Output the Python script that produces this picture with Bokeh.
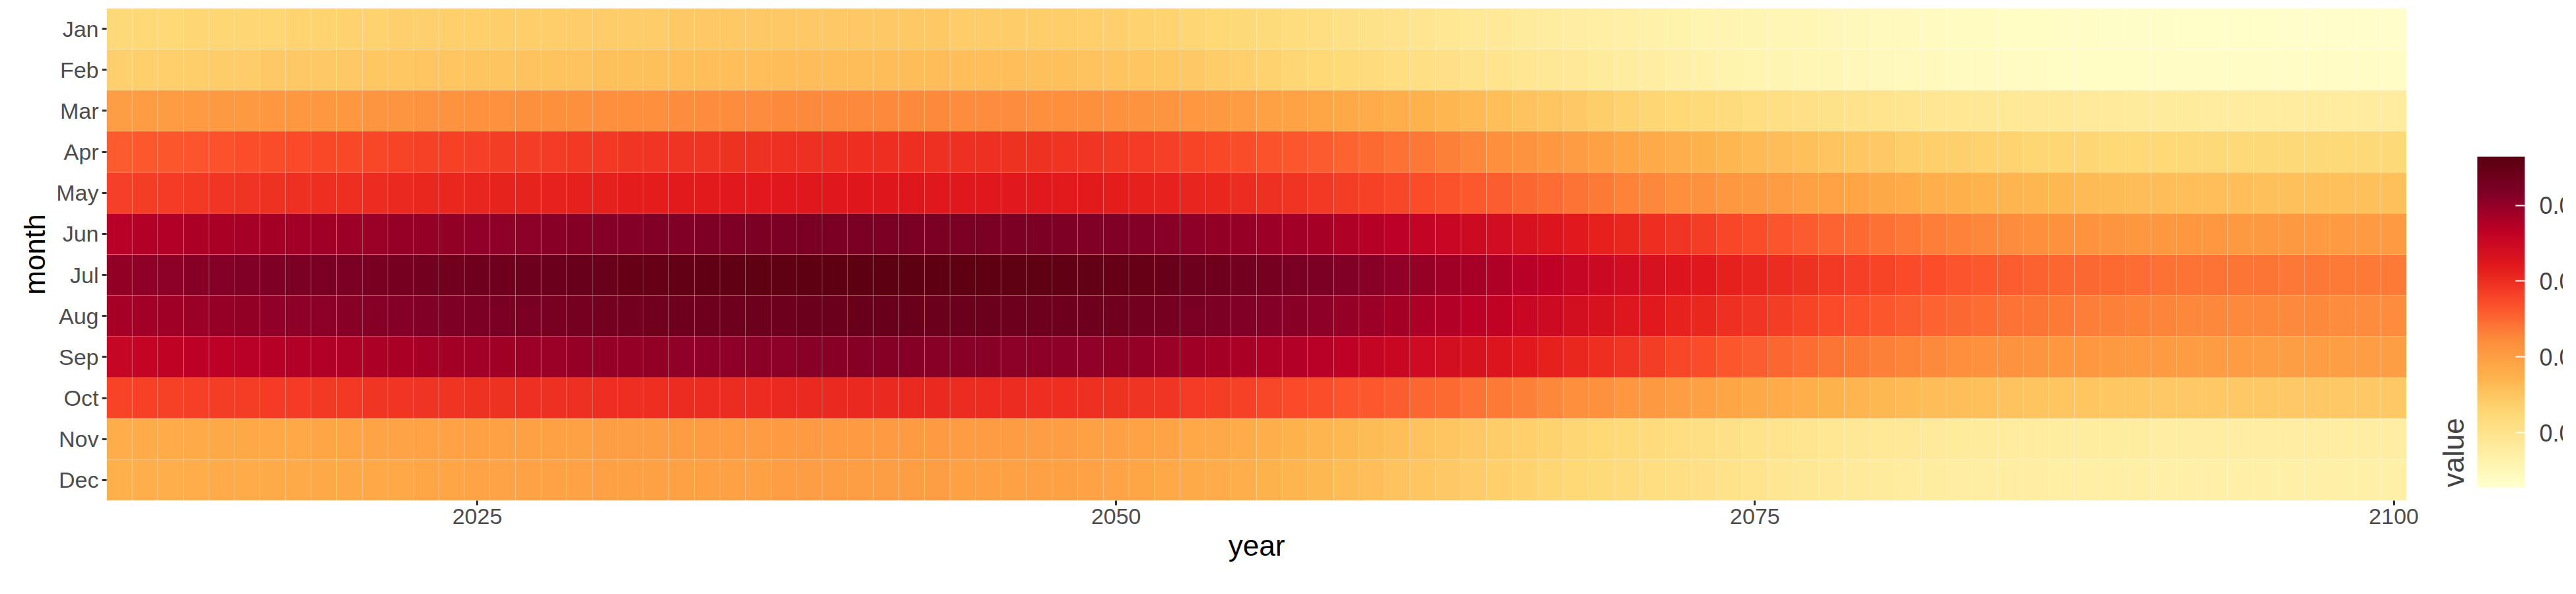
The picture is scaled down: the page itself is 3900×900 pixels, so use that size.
from bokeh.plotting import figure
from bokeh.models import LinearColorMapper, ColorBar, FixedTicker, ColumnDataSource, FactorRange, Range1d, PrintfTickFormatter
from bokeh.embed import file_html
from bokeh.resources import INLINE
from bokeh.transform import transform

months = ["Jan", "Feb", "Mar", "Apr", "May", "Jun", "Jul", "Aug", "Sep", "Oct", "Nov", "Dec"]
years = list(range(2011, 2101))

# values in units of 1e-5, one row per month, 2011..2100
jan = [212, 213, 213, 214, 214, 215, 215, 216, 216, 217, 217, 218, 218, 219, 219, 220, 220, 220, 221, 221,
       221, 221, 222, 222, 222, 222, 222, 222, 222, 222, 222, 222, 222, 221, 221, 221, 220, 220, 219, 218,
       217, 216, 215, 213, 212, 210, 208, 206, 204, 202, 200, 198, 196, 194, 193, 191, 189, 188, 186, 185,
       183, 182, 180, 179, 178, 177, 176, 175, 174, 173, 172, 171, 170, 170, 169, 169, 168, 168, 167, 167,
       167, 166, 166, 166, 166, 165, 165, 165, 165, 165]
feb = [218, 219, 219, 220, 221, 221, 222, 222, 223, 223, 224, 224, 225, 225, 226, 226, 227, 227, 227, 228,
       228, 228, 229, 229, 229, 229, 230, 230, 230, 230, 230, 230, 230, 229, 229, 229, 228, 228, 227, 226,
       225, 224, 222, 221, 219, 217, 215, 213, 211, 209, 207, 205, 203, 201, 199, 197, 195, 193, 191, 189,
       187, 185, 183, 181, 180, 178, 177, 176, 175, 174, 173, 172, 171, 171, 170, 170, 169, 169, 169, 169,
       168, 168, 168, 168, 168, 168, 168, 168, 168, 168]
mar = [250, 251, 251, 252, 253, 253, 254, 254, 255, 255, 256, 256, 257, 257, 258, 258, 259, 259, 259, 260,
       260, 260, 261, 261, 261, 261, 262, 262, 262, 262, 262, 262, 262, 261, 261, 261, 260, 260, 259, 258,
       257, 256, 254, 253, 251, 249, 247, 245, 243, 241, 239, 237, 234, 232, 229, 227, 225, 222, 220, 217,
       215, 213, 211, 209, 207, 205, 203, 202, 200, 199, 198, 197, 196, 195, 194, 193, 193, 192, 192, 191,
       191, 191, 190, 190, 190, 190, 190, 190, 190, 190]
apr = [280, 281, 282, 283, 284, 285, 286, 287, 288, 288, 289, 290, 291, 291, 292, 293, 293, 294, 295, 295,
       296, 296, 297, 297, 298, 298, 299, 299, 299, 300, 300, 300, 299, 299, 299, 298, 298, 297, 296, 295,
       294, 292, 290, 288, 286, 284, 282, 280, 277, 274, 272, 269, 266, 263, 260, 257, 254, 251, 248, 245,
       242, 239, 237, 234, 232, 230, 228, 226, 224, 222, 220, 219, 218, 217, 216, 215, 214, 214, 213, 213,
       213, 212, 212, 212, 212, 212, 212, 212, 212, 212]
may = [292, 293, 294, 295, 296, 297, 298, 299, 300, 300, 301, 302, 303, 303, 304, 305, 305, 306, 307, 307,
       308, 308, 309, 309, 310, 310, 311, 311, 311, 312, 312, 312, 311, 311, 311, 310, 310, 309, 309, 308,
       307, 306, 304, 303, 301, 299, 297, 295, 293, 291, 289, 286, 284, 281, 279, 276, 273, 271, 268, 265,
       263, 260, 258, 255, 253, 251, 249, 247, 245, 243, 241, 239, 238, 236, 235, 234, 233, 232, 231, 230,
       230, 229, 229, 229, 228, 228, 228, 228, 228, 228]
jun = [335, 337, 338, 340, 341, 342, 343, 344, 345, 346, 347, 348, 349, 350, 351, 352, 353, 354, 355, 356,
       356, 357, 358, 359, 359, 360, 360, 361, 361, 362, 362, 362, 361, 361, 361, 360, 360, 359, 358, 357,
       356, 354, 352, 350, 348, 346, 344, 342, 339, 336, 333, 330, 327, 324, 321, 317, 314, 310, 307, 303,
       300, 296, 293, 289, 286, 283, 280, 277, 274, 272, 269, 267, 265, 263, 261, 260, 258, 257, 256, 255,
       255, 254, 254, 253, 253, 253, 252, 252, 252, 252]
jul = [350, 352, 353, 355, 356, 358, 359, 360, 361, 362, 363, 364, 366, 367, 368, 369, 370, 371, 372, 373,
       374, 375, 376, 377, 377, 378, 378, 379, 379, 380, 380, 380, 379, 379, 379, 378, 378, 377, 376, 375,
       374, 372, 370, 368, 366, 364, 362, 360, 357, 354, 351, 348, 345, 342, 339, 335, 332, 328, 325, 321,
       318, 314, 311, 307, 304, 301, 298, 295, 292, 290, 287, 285, 283, 281, 279, 278, 276, 275, 274, 273,
       272, 271, 271, 270, 270, 269, 269, 268, 268, 268]
aug = [342, 344, 345, 347, 348, 350, 351, 352, 353, 354, 355, 356, 358, 359, 360, 361, 362, 363, 364, 365,
       366, 367, 368, 369, 369, 370, 370, 371, 371, 372, 372, 372, 371, 371, 371, 370, 370, 369, 368, 367,
       366, 364, 362, 360, 358, 356, 354, 352, 349, 346, 343, 340, 337, 334, 331, 327, 324, 320, 317, 313,
       310, 306, 303, 299, 296, 293, 290, 287, 284, 282, 279, 277, 275, 273, 271, 270, 268, 267, 266, 265,
       264, 263, 263, 262, 262, 262, 262, 261, 261, 261]
sep = [328, 330, 331, 333, 334, 335, 336, 337, 338, 339, 340, 341, 342, 343, 344, 345, 346, 347, 348, 349,
       349, 350, 351, 352, 352, 353, 353, 354, 354, 355, 355, 355, 354, 354, 354, 353, 353, 352, 351, 350,
       349, 347, 345, 343, 341, 339, 337, 335, 332, 329, 326, 323, 320, 317, 314, 310, 307, 303, 300, 296,
       293, 289, 286, 282, 279, 276, 273, 270, 268, 266, 264, 262, 260, 258, 257, 256, 255, 254, 253, 252,
       252, 251, 251, 251, 250, 250, 250, 250, 250, 250]
oct_ = [290, 291, 291, 292, 293, 293, 294, 294, 295, 295, 296, 296, 297, 297, 298, 298, 299, 299, 299, 300,
        300, 300, 301, 301, 301, 301, 302, 302, 302, 302, 302, 302, 302, 301, 301, 301, 300, 300, 299, 298,
        297, 296, 294, 293, 291, 289, 287, 285, 283, 281, 279, 276, 274, 271, 268, 266, 263, 260, 258, 255,
        253, 250, 248, 245, 243, 241, 239, 237, 235, 233, 232, 230, 229, 228, 227, 226, 225, 225, 224, 224,
        223, 223, 223, 222, 222, 222, 222, 222, 222, 222]
nov = [240, 241, 241, 242, 243, 243, 244, 244, 245, 245, 246, 246, 247, 247, 248, 248, 249, 249, 249, 250,
       250, 250, 251, 251, 251, 251, 252, 252, 252, 252, 252, 252, 252, 251, 251, 251, 250, 250, 249, 248,
       247, 246, 244, 243, 241, 239, 237, 235, 233, 231, 229, 227, 225, 223, 221, 219, 217, 215, 213, 211,
       209, 207, 205, 203, 201, 199, 198, 196, 195, 194, 193, 192, 191, 191, 190, 190, 189, 189, 189, 189,
       188, 188, 188, 188, 188, 188, 188, 188, 188, 188]
dec = [238, 239, 239, 240, 241, 241, 242, 242, 243, 243, 244, 244, 245, 245, 246, 246, 247, 247, 247, 248,
       248, 248, 249, 249, 249, 249, 250, 250, 250, 250, 250, 250, 250, 249, 249, 249, 248, 248, 247, 246,
       245, 244, 242, 241, 239, 237, 235, 233, 231, 229, 227, 225, 223, 221, 219, 217, 215, 213, 211, 209,
       207, 205, 203, 201, 199, 197, 195, 193, 192, 191, 190, 189, 188, 188, 187, 187, 186, 186, 186, 186,
       185, 185, 185, 185, 185, 185, 185, 185, 185, 185]

rows = [jan, feb, mar, apr, may, jun, jul, aug, sep, oct_, nov, dec]
colorbar_ticks = [0.0020, 0.0025, 0.0030, 0.0035]

xs, ys, vals = [], [], []
for m, row in zip(months, rows):
    for yr, v in zip(years, row):
        xs.append(yr)
        ys.append(m)
        vals.append(v * 1e-5)
src = ColumnDataSource(dict(year=xs, month=ys, value=vals))

# YlOrRd, light to dark, blended into a smooth ramp
base = ["#ffffcc", "#ffeda0", "#fed976", "#feb24c", "#fd8d3c", "#fc4e2a", "#e31a1c", "#bd0026", "#800026", "#5a0010"]
def hx(c):
    return [int(c[i:i + 2], 16) for i in (1, 3, 5)]
pal = []
for i in range(256):
    t = i / 255 * (len(base) - 1)
    k = min(int(t), len(base) - 2)
    f = t - k
    a, b = hx(base[k]), hx(base[k + 1])
    pal.append("#%02x%02x%02x" % tuple(round(a[j] + (b[j] - a[j]) * f) for j in range(3)))

mapper = LinearColorMapper(palette=pal, low=0.00164, high=0.00382)

p = figure(width=3880, height=880, output_backend="svg", toolbar_location=None,
           x_range=Range1d(2010.5, 2100.5), y_range=FactorRange(*months[::-1]),
           frame_width=3482, frame_height=746, min_border_left=161, min_border_right=237,
           min_border_top=12, min_border_bottom=10)
p.rect(x="year", y="month", width=1, height=1, source=src,
       fill_color=transform("value", mapper), line_color="white", line_alpha=0.15, line_width=1)

p.background_fill_color = "white"
p.outline_line_color = None
p.grid.grid_line_color = None
p.y_range.range_padding = 0
for ax in (p.xaxis[0], p.yaxis[0]):
    ax.axis_line_color = None
    ax.major_tick_line_color = "#333333"
    ax.major_tick_line_width = 3
    ax.major_tick_out = 7
    ax.major_tick_in = 0
    ax.minor_tick_line_color = None
    ax.major_label_text_font = "Liberation Sans"
    ax.major_label_text_font_size = "34px"
    ax.major_label_text_color = "#4d4d4d"
    ax.axis_label_text_font = "Liberation Sans"
    ax.axis_label_text_font_size = "44px"
    ax.axis_label_text_font_style = "normal"
    ax.axis_label_text_color = "black"
p.xaxis.ticker = FixedTicker(ticks=[2025, 2050, 2075, 2100])
p.xaxis.axis_label = "year"
p.yaxis.axis_label = "month"

cb = ColorBar(color_mapper=mapper, ticker=FixedTicker(ticks=colorbar_ticks), title="value",
              width=72, height=501, location=(3504, 10), padding=10, margin=0,
              major_label_text_font="Liberation Sans", major_label_text_font_size="36px",
              title_text_font="Liberation Sans", title_text_font_size="44px",
              title_text_font_style="normal", title_standoff=24,
              major_tick_line_color="white", major_tick_line_width=2, major_tick_out=0, major_tick_in=14,
              bar_line_color=None, border_line_color=None, background_fill_alpha=0,
              label_standoff=22, formatter=PrintfTickFormatter(format="%.4f"))
p.add_layout(cb, "center")

open("out.html", "w").write(file_html(p, INLINE))
